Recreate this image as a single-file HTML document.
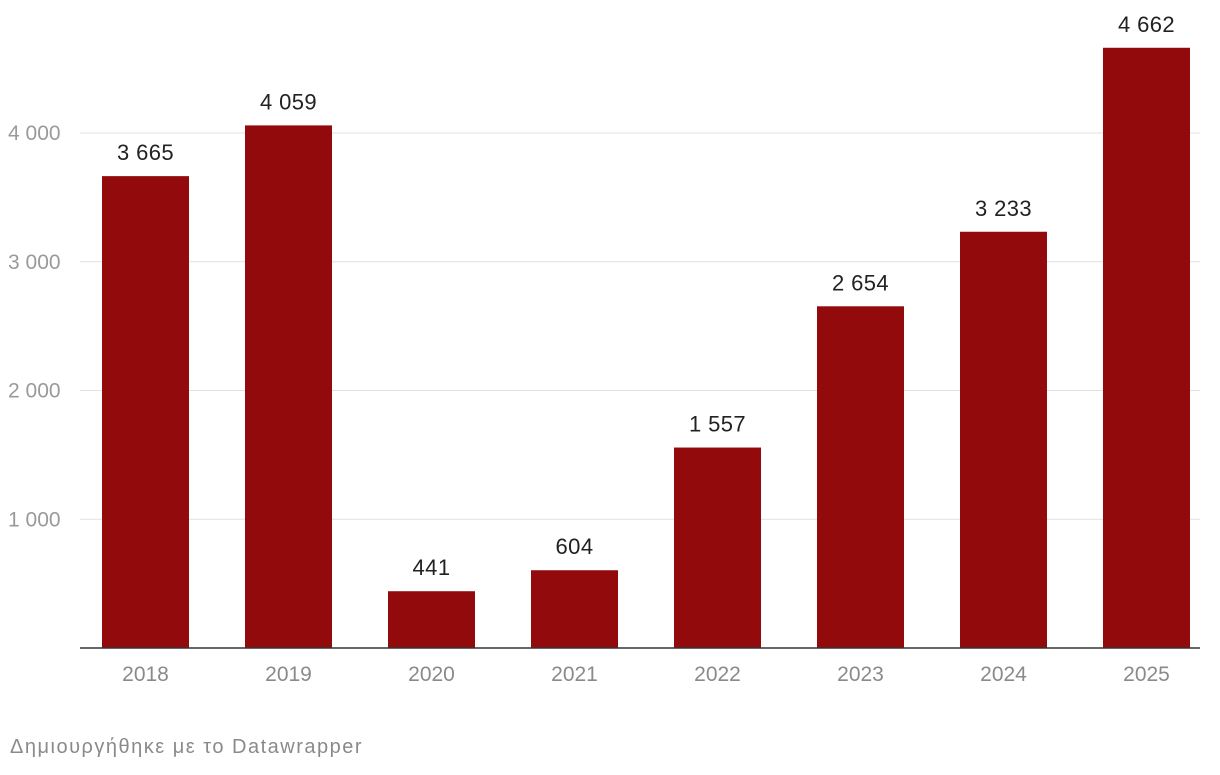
<!DOCTYPE html>
<html><head><meta charset="utf-8"><style>
body{margin:0;background:#fff;font-family:"Liberation Sans",sans-serif;}
svg text{font-family:"Liberation Sans",sans-serif;}
</style></head><body>
<svg id="chart" width="1220" height="770" xmlns="http://www.w3.org/2000/svg"></svg>
<script>
const categories=["2018","2019","2020","2021","2022","2023","2024","2025"];
const values=[3665,4059,441,604,1557,2654,3233,4662];
const valueLabels=["3 665","4 059","441","604","1 557","2 654","3 233","4 662"];
const yTicks=[1000,2000,3000,4000];
const yTickLabels=["1 000","2 000","3 000","4 000"];
const svg=document.getElementById('chart');
const NS='http://www.w3.org/2000/svg';
const y0=648,pxPer=0.12875;
const y=v=>y0-v*pxPer;
const x=i=>145.5+i*143;
const bw=87;
function mk(t,a){const e=document.createElementNS(NS,t);for(const k in a)e.setAttribute(k,a[k]);svg.appendChild(e);return e;}
yTicks.forEach((t,i)=>{
 const g=mk('line',{x1:80,x2:1200,y1:y(t),y2:y(t),stroke:'#e0e0e0','stroke-width':1});
 
 
 const l=mk('text',{x:8,y:y(t)+7,fill:'#9a9a9a','font-size':21});
 
 
 l.textContent=yTickLabels[i];
});
values.forEach((v,i)=>{
 const r=mk('rect',{x:x(i)-bw/2,y:y(v),width:bw,height:y0-y(v),fill:'#920a0b'});
 
 
 const t=mk('text',{x:x(i),y:y(v)-16,'text-anchor':'middle',fill:'#222','font-size':22,'letter-spacing':0.4});
 
 
 t.textContent=valueLabels[i];
 const c=mk('text',{x:x(i),y:681,'text-anchor':'middle',fill:'#8a8a8a','font-size':21});
 
 
 c.textContent=categories[i];
});
const b=mk('line',{x1:80,x2:1200,y1:y0,y2:y0,stroke:'#333','stroke-width':1.5});


const f=mk('text',{x:10,y:753,fill:'#8a8a8a','font-size':20,'letter-spacing':1.5});


f.textContent='Δημιουργήθηκε με το Datawrapper';
</script>
</body></html>
